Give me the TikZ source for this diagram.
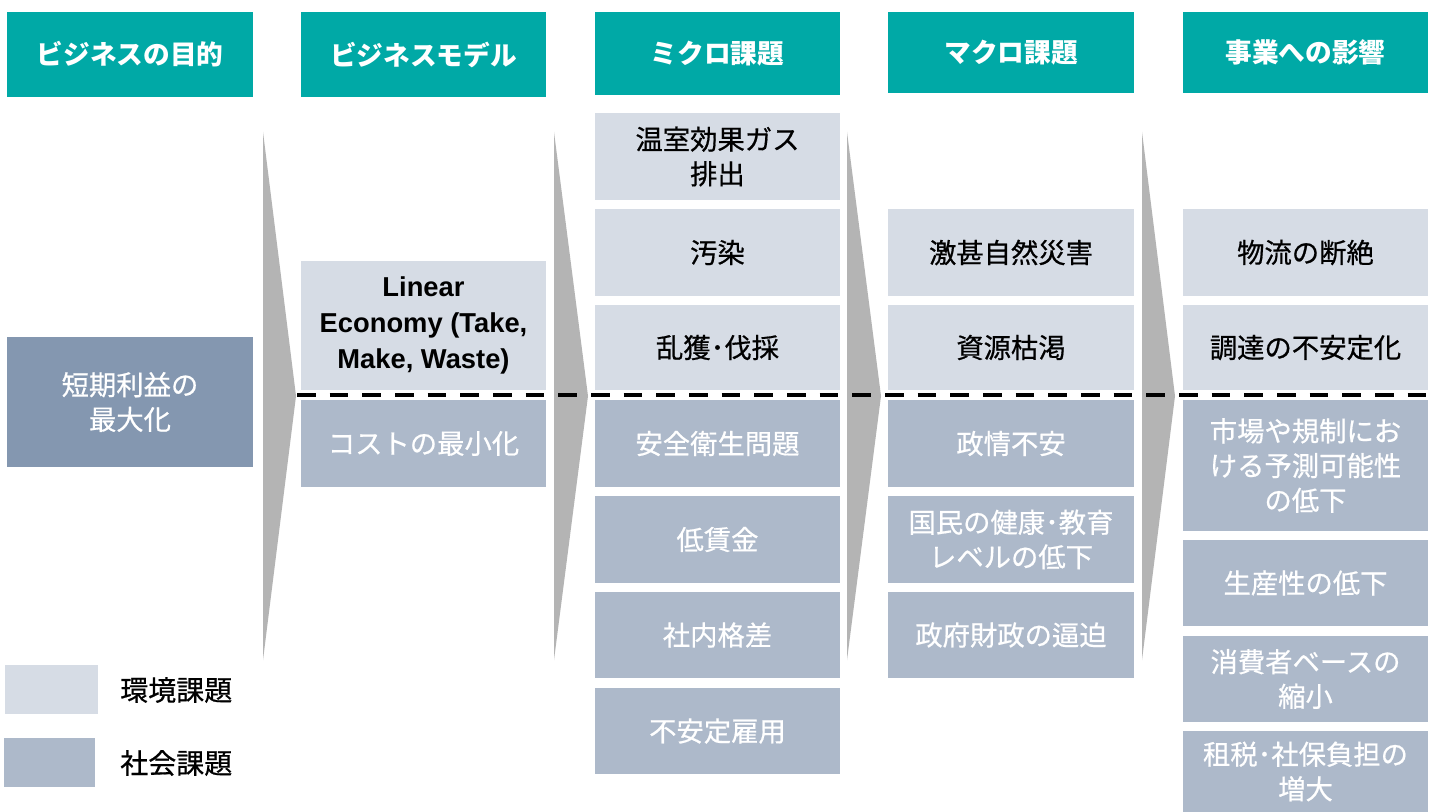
\documentclass[tikz,border=0pt]{standalone}
\usepackage{fontspec}
\setmainfont{Noto Sans CJK JP}
\newfontfamily\bodyfont{Noto Sans CJK JP}[FakeBold=0.6]
\newfontfamily\arialfont{Liberation Sans}
\definecolor{tealhead}{HTML}{00A9A6}
\definecolor{envc}{HTML}{D6DCE5}
\definecolor{socc}{HTML}{ADB9CA}
\definecolor{darkc}{HTML}{8497B0}
\definecolor{arrowc}{HTML}{B4B4B4}
\newcommand{\bx}[7]{\node[#6, minimum width={(#4-#2)*0.75pt}, minimum height={(#5-#3)*0.75pt}] (#1) at ({(#2+#4)/2},{(#3+#5)/2}) {#7};}
\begin{document}
\begin{tikzpicture}[x=0.75pt,y=-0.75pt,
 base/.style={inner sep=0pt, align=center, font=\bodyfont\fontsize{20.5pt}{26pt}\selectfont},
 head/.style={base, fill=tealhead, text=white, font=\fontsize{20pt}{26pt}\selectfont\bfseries},
 env/.style={base, fill=envc, text=black},
 soc/.style={base, fill=socc, text=white},
 goal/.style={base, fill=darkc, text=white},
 chev/.style={fill=arrowc},
 sep/.style={line width=3pt, dash pattern=on 14pt off 10.5pt},
 legtext/.style={inner sep=0pt, anchor=west, font=\bodyfont\fontsize{21pt}{26pt}\selectfont}]
\fill[white] (0,0) rectangle (1435,812);
\useasboundingbox (0,0) rectangle (1435,812);
% chevrons
\fill[chev] (263,132) -- (296,396) -- (263,660) -- cycle;
\fill[chev] (554,132) -- (588,396) -- (554,660) -- cycle;
\fill[chev] (847,132) -- (881,396) -- (847,660) -- cycle;
\fill[chev] (1142,132) -- (1175,396) -- (1142,660) -- cycle;
% headers
\bx{h1}{7}{12}{253}{97}{head}{ビジネスの目的}
\bx{h2}{301}{12}{546}{97}{head}{ビジネスモデル}
\bx{h3}{595}{12}{840}{95}{head}{ミクロ課題}
\bx{h4}{888}{12}{1134}{93}{head}{マクロ課題}
\bx{h5}{1183}{12}{1428}{93}{head}{事業への影響}
% column 1
\bx{c1}{7}{337}{253}{467}{goal}{短期利益の\\最大化}
% column 2
\bx{c2a}{301}{261}{546}{390}{env}{\arialfont\bfseries Linear\\[1pt]\arialfont\bfseries Economy (Take,\\[1pt]\arialfont\bfseries Make, Waste)}
\bx{c2b}{301}{400}{546}{487}{soc}{コストの最小化}
% column 3
\bx{c3a}{595}{113}{840}{200}{env}{温室効果ガス\\排出}
\bx{c3b}{595}{209}{840}{296}{env}{汚染}
\bx{c3c}{595}{305}{840}{390}{env}{乱獲･伐採}
\bx{c3d}{595}{400}{840}{487}{soc}{安全衛生問題}
\bx{c3e}{595}{496}{840}{583}{soc}{低賃金}
\bx{c3f}{595}{592}{840}{678}{soc}{社内格差}
\bx{c3g}{595}{688}{840}{774}{soc}{不安定雇用}
% column 4
\bx{c4a}{888}{209}{1134}{296}{env}{激甚自然災害}
\bx{c4b}{888}{305}{1134}{390}{env}{資源枯渇}
\bx{c4c}{888}{400}{1134}{487}{soc}{政情不安}
\bx{c4d}{888}{496}{1134}{583}{soc}{国民の健康･教育\\レベルの低下}
\bx{c4e}{888}{592}{1134}{678}{soc}{政府財政の逼迫}
% column 5
\bx{c5a}{1183}{209}{1428}{296}{env}{物流の断絶}
\bx{c5b}{1183}{305}{1428}{390}{env}{調達の不安定化}
\bx{c5c}{1183}{400}{1428}{531}{soc}{市場や規制にお\\ける予測可能性\\の低下}
\bx{c5d}{1183}{540}{1428}{626}{soc}{生産性の低下}
\bx{c5e}{1183}{636}{1428}{722}{soc}{消費者ベースの\\縮小}
\bx{c5f}{1183}{731}{1428}{812}{soc}{租税･社保負担の\\増大}
% separator
\coordinate (sepL) at (297,395);
\coordinate (sepR) at (1428,395);
\draw[sep] (sepL) -- (sepR);
% legend
\bx{lg1}{5}{665}{98}{714}{env}{}
\bx{lg2}{4}{738}{95}{787}{soc}{}
\node[legtext] (lt1) at (120,690) {環境課題};
\node[legtext] (lt2) at (120,763) {社会課題};
\end{tikzpicture}
\end{document}
